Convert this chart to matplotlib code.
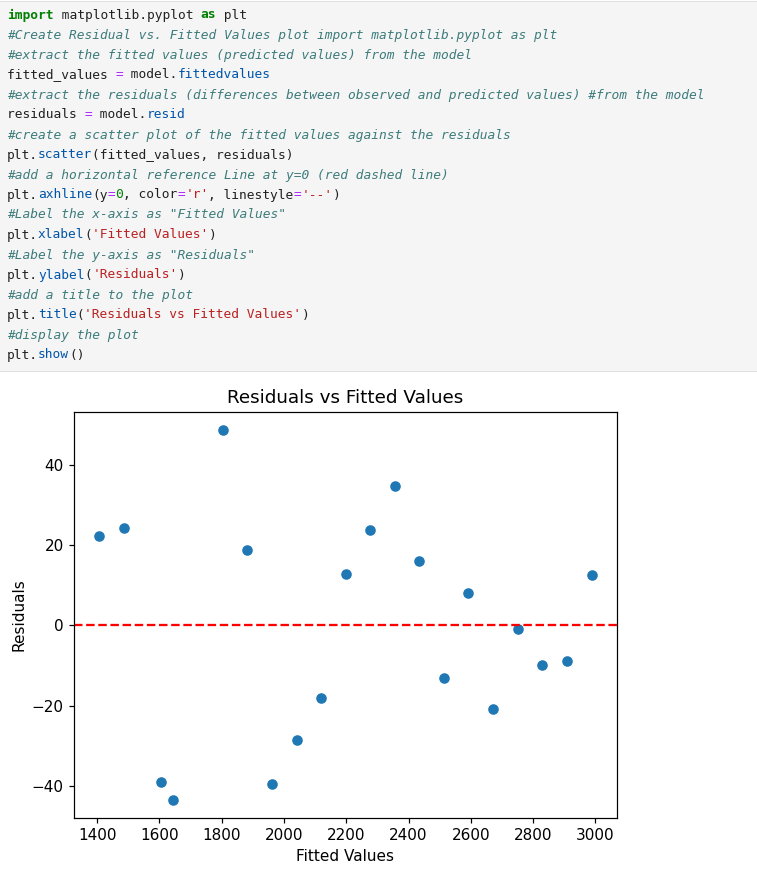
import matplotlib.pyplot as plt
from matplotlib.patches import Rectangle

W, H = 757, 871

# values
fitted_values = [1405, 1487, 1606, 1645, 1804, 1882, 1962, 2041, 2119, 2198,
                 2276, 2356, 2433, 2513, 2592, 2672, 2750, 2829, 2909, 2990]
residuals = [22.3, 24.3, -39.1, -43.4, 48.6, 18.8, -39.6, -28.6, -18.0, 12.8,
             23.8, 34.8, 16.0, -13.0, 8.0, -20.8, -0.8, -9.8, -8.8, 12.5]

# notebook cell text, as (token, style) pieces
code_lines = [
    [("import", "kw"), (" matplotlib.pyplot ", "txt"), ("as", "kw"), (" plt", "txt")],
    [("#Create Residual vs. Fitted Values plot import matplotlib.pyplot as plt", "com")],
    [("#extract the fitted values (predicted values) from the model", "com")],
    [("fitted_values ", "txt"), ("=", "op"), (" model.", "txt"), ("fittedvalues", "attr")],
    [("#extract the residuals (differences between observed and predicted values) #from the model", "com")],
    [("residuals ", "txt"), ("=", "op"), (" model.", "txt"), ("resid", "attr")],
    [("#create a scatter plot of the fitted values against the residuals", "com")],
    [("plt.", "txt"), ("scatter", "attr"), ("(fitted_values, residuals)", "txt")],
    [("#add a horizontal reference Line at y=0 (red dashed line)", "com")],
    [("plt.", "txt"), ("axhline", "attr"), ("(y", "txt"), ("=", "op"), ("0", "num"),
     (", color", "txt"), ("=", "op"), ("'r'", "str"), (", linestyle", "txt"),
     ("=", "op"), ("'--'", "str"), (")", "txt")],
    [("#Label the x-axis as \"Fitted Values\"", "com")],
    [("plt.", "txt"), ("xlabel", "attr"), ("(", "txt"), ("'Fitted Values'", "str"), (")", "txt")],
    [("#Label the y-axis as \"Residuals\"", "com")],
    [("plt.", "txt"), ("ylabel", "attr"), ("(", "txt"), ("'Residuals'", "str"), (")", "txt")],
    [("#add a title to the plot", "com")],
    [("plt.", "txt"), ("title", "attr"), ("(", "txt"), ("'Residuals vs Fitted Values'", "str"), (")", "txt")],
    [("#display the plot", "com")],
    [("plt.", "txt"), ("show", "attr"), ("()", "txt")],
]

styles = {
    "txt": dict(color="#212121"),
    "kw": dict(color="#008000", fontweight="bold"),
    "com": dict(color="#3d7b7b", fontstyle="italic"),
    "op": dict(color="#aa22ff"),
    "attr": dict(color="#0055aa"),
    "str": dict(color="#ba2121"),
    "num": dict(color="#008000"),
}

fig = plt.figure(figsize=(W / 100, H / 100), dpi=100)

# cell background
fig.patches.append(Rectangle((0, 1 - 371 / H), 1, 369 / H, transform=fig.transFigure,
                             facecolor="#f5f5f5", edgecolor="none", zorder=0))
fig.patches.append(Rectangle((0, 1 - 2 / H), 1, 1.2 / H, transform=fig.transFigure,
                             facecolor="#e0e0e0", edgecolor="none", zorder=0))
fig.patches.append(Rectangle((0, 1 - 372 / H), 1, 1.2 / H, transform=fig.transFigure,
                             facecolor="#e0e0e0", edgecolor="none", zorder=0))

fs = 9.3
# measure the real advance of the mono font
r = fig.canvas.get_renderer()
probe = fig.text(0, 0, "x" * 80, family="DejaVu Sans Mono", fontsize=fs)
cw = probe.get_window_extent(r).width / 80
probe.remove()

for i, line in enumerate(code_lines):
    y = 15 + 20 * i
    col = 0
    for tok, st in line:
        fig.text((7 + col * cw) / W, 1 - y / H, tok, family="DejaVu Sans Mono",
                 fontsize=fs, va="center", ha="left", **styles[st])
        col += len(tok)

# the plot itself
k = 1.1
ax = fig.add_axes([74 / W, 1 - 818 / H, 543 / W, 406 / H])
ax.scatter(fitted_values, residuals, s=36 * k * k, color="#1f77b4")
ax.axhline(y=0, color='r', linestyle='--', linewidth=1.5 * k)
ax.set_xlabel('Fitted Values', fontsize=10 * k)
ax.set_ylabel('Residuals', fontsize=10 * k)
ax.set_title('Residuals vs Fitted Values', fontsize=12 * k, pad=6 * k)
ax.set_xticks([1400, 1600, 1800, 2000, 2200, 2400, 2600, 2800, 3000])
ax.set_yticks([-40, -20, 0, 20, 40])
ax.tick_params(labelsize=10 * k, length=3.5 * k, width=0.8 * k)
for sp in ax.spines.values():
    sp.set_linewidth(0.8 * k)

fig.savefig("out.png", dpi=100)
